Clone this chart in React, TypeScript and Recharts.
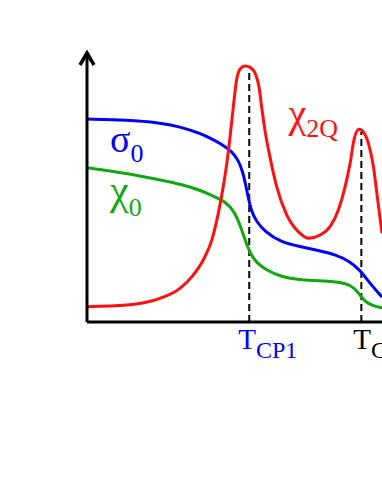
import React from 'react';
import { LineChart, Line, XAxis, YAxis, ReferenceLine, ReferenceDot } from 'recharts';

// sigma_0 (blue)
const sigmaT = [0, 13.6, 24.7, 31.5, 38.3, 42.7, 46.1, 49.1, 51.3, 52.8, 53.8, 54.7, 55.8, 57.5, 60.3, 65.4, 72.2, 78.9, 84.6, 89.2, 92.5, 95.9, 100];
const sigmaV = [76.6, 76.2, 75.2, 73.7, 71.2, 68.9, 66.8, 64.3, 61.1, 56.7, 51.7, 46.7, 41.6, 37.8, 34.1, 30.3, 28.4, 26.9, 25.3, 22.8, 19.6, 14.6, 9.4];

// chi_0 (green)
const chi0T = [0, 13.6, 24.7, 31.5, 38.3, 42.8, 46.2, 48.5, 50.2, 51.9, 53.6, 55.3, 57.5, 60.9, 65.4, 72.2, 82.4, 88.0, 90.8, 92.5, 94.2, 97.1, 100];
const chi0V = [58.2, 56.1, 53.6, 52.1, 49.8, 47.5, 45.8, 43.5, 41.0, 36.6, 30.9, 25.9, 22.2, 19.6, 17.2, 15.8, 15.4, 14.6, 12.7, 10.2, 7.7, 6.0, 5.4];

// chi_2Q (red)
const chi2qT = [0, 13.6, 24.7, 31.5, 36.0, 39.4, 42.3, 44.5, 46.2, 47.4, 48.5, 49.6, 50.7, 51.9, 53.6, 55.3, 57.0, 58.3, 59.2, 60.3, 62.0, 64.3, 67.7, 71.6, 75.3, 79.0, 82.4, 85.2, 87.5, 89.2, 90.5, 92.2, 93.9, 95.4, 97.1, 98.4, 100];
const chi2qV = [5.8, 6.4, 8.9, 12.7, 17.7, 23.4, 30.9, 41.0, 51.1, 59.9, 69.9, 81.2, 91.3, 95.5, 96.6, 96.1, 93.8, 88.8, 81.2, 72.5, 62.4, 51.1, 40.4, 34.1, 31.6, 32.8, 36.0, 42.3, 51.1, 59.9, 68.7, 72.7, 71.4, 67.4, 58.6, 47.3, 33.5];

// critical points
const tickValues = [55, 93];
const tickSubs = ['CP1', 'CP2'];
const peakHeights = [95.5, 71.8];

// series labels
const labelMain = ['σ', 'χ', 'χ'];
const labelSub = ['0', '0', '2Q'];
const labelT = [7.8, 7.8, 68.3];
const labelV = [64.2, 44.5, 73.6];

const sigmaData = sigmaT.map((t, i) => ({ t, v: sigmaV[i] }));
const chi0Data = chi0T.map((t, i) => ({ t, v: chi0V[i] }));
const chi2qData = chi2qT.map((t, i) => ({ t, v: chi2qV[i] }));

const BLUE = '#0000ff';
const GREEN = '#10a810';
const RED = '#ff1010';
const FONT = '"Liberation Serif", "Times New Roman", serif';

const tickColors = [BLUE, '#000000'];
const tickShift = [-11, -8];
const labelColors = [BLUE, GREEN, RED];
const labelMainSize = [38, 42, 40];
const labelSubDy = [10, 12, 10];

const TickLabel = (props: any) => {
  const { x, y, payload } = props;
  const i = tickValues.indexOf(payload.value);
  return (
    <text x={x + tickShift[i]} y={y + 19} fontFamily={FONT} fill={tickColors[i]} textAnchor="start">
      <tspan fontSize={29}>T</tspan>
      <tspan fontSize={24} dy={9}>{tickSubs[i]}</tspan>
    </text>
  );
};

const Arrow = (props: any) => {
  const { cx, cy } = props;
  return (
    <path
      d={`M${cx - 7},${cy + 12} L${cx},${cy} L${cx + 7},${cy + 12}`}
      fill="none"
      stroke="#000"
      strokeWidth={3.5}
      strokeLinejoin="miter"
    />
  );
};

const makeLabel = (i: number) => (props: any) => {
  const { cx, cy } = props;
  return (
    <text x={cx} y={cy} fontFamily={FONT} fill={labelColors[i]} textAnchor="start">
      <tspan fontSize={labelMainSize[i]}>{labelMain[i]}</tspan>
      <tspan fontSize={26} dy={labelSubDy[i]}>{labelSub[i]}</tspan>
    </text>
  );
};

export default function App() {
  return (
    <div style={{ position: 'absolute', left: 0, top: 0, width: 382, height: 494, overflow: 'hidden', background: '#fff' }}>
      <LineChart width={382} height={494} margin={{ top: 53, right: 0, bottom: 142, left: 86 }}>
        <XAxis
          type="number"
          dataKey="t"
          domain={[0, 100]}
          ticks={tickValues}
          tick={<TickLabel />}
          tickLine={false}
          axisLine={{ stroke: '#000', strokeWidth: 3 }}
          height={30}
          allowDataOverflow
        />
        <YAxis
          type="number"
          dataKey="v"
          domain={[0, 101.5]}
          tick={false}
          tickLine={false}
          axisLine={{ stroke: '#000', strokeWidth: 3 }}
          width={1}
          allowDataOverflow
        />
        {tickValues.map((t, i) => (
          <ReferenceLine
            key={t}
            segment={[{ x: t, y: 0 }, { x: t, y: peakHeights[i] }]}
            stroke="#000"
            strokeWidth={2}
            strokeDasharray="7 4"
            ifOverflow="visible"
          />
        ))}
        <Line data={chi0Data} dataKey="v" type="basis" stroke={GREEN} strokeWidth={3} dot={false} isAnimationActive={false} />
        <Line data={sigmaData} dataKey="v" type="basis" stroke={BLUE} strokeWidth={3} dot={false} isAnimationActive={false} />
        <Line data={chi2qData} dataKey="v" type="monotone" stroke={RED} strokeWidth={3} dot={false} isAnimationActive={false} />
        <ReferenceDot x={0} y={101.5} r={0} shape={<Arrow />} ifOverflow="visible" />
        {labelMain.map((m, i) => (
          <ReferenceDot key={i} x={labelT[i]} y={labelV[i]} r={0} shape={makeLabel(i)} ifOverflow="visible" />
        ))}
      </LineChart>
    </div>
  );
}
